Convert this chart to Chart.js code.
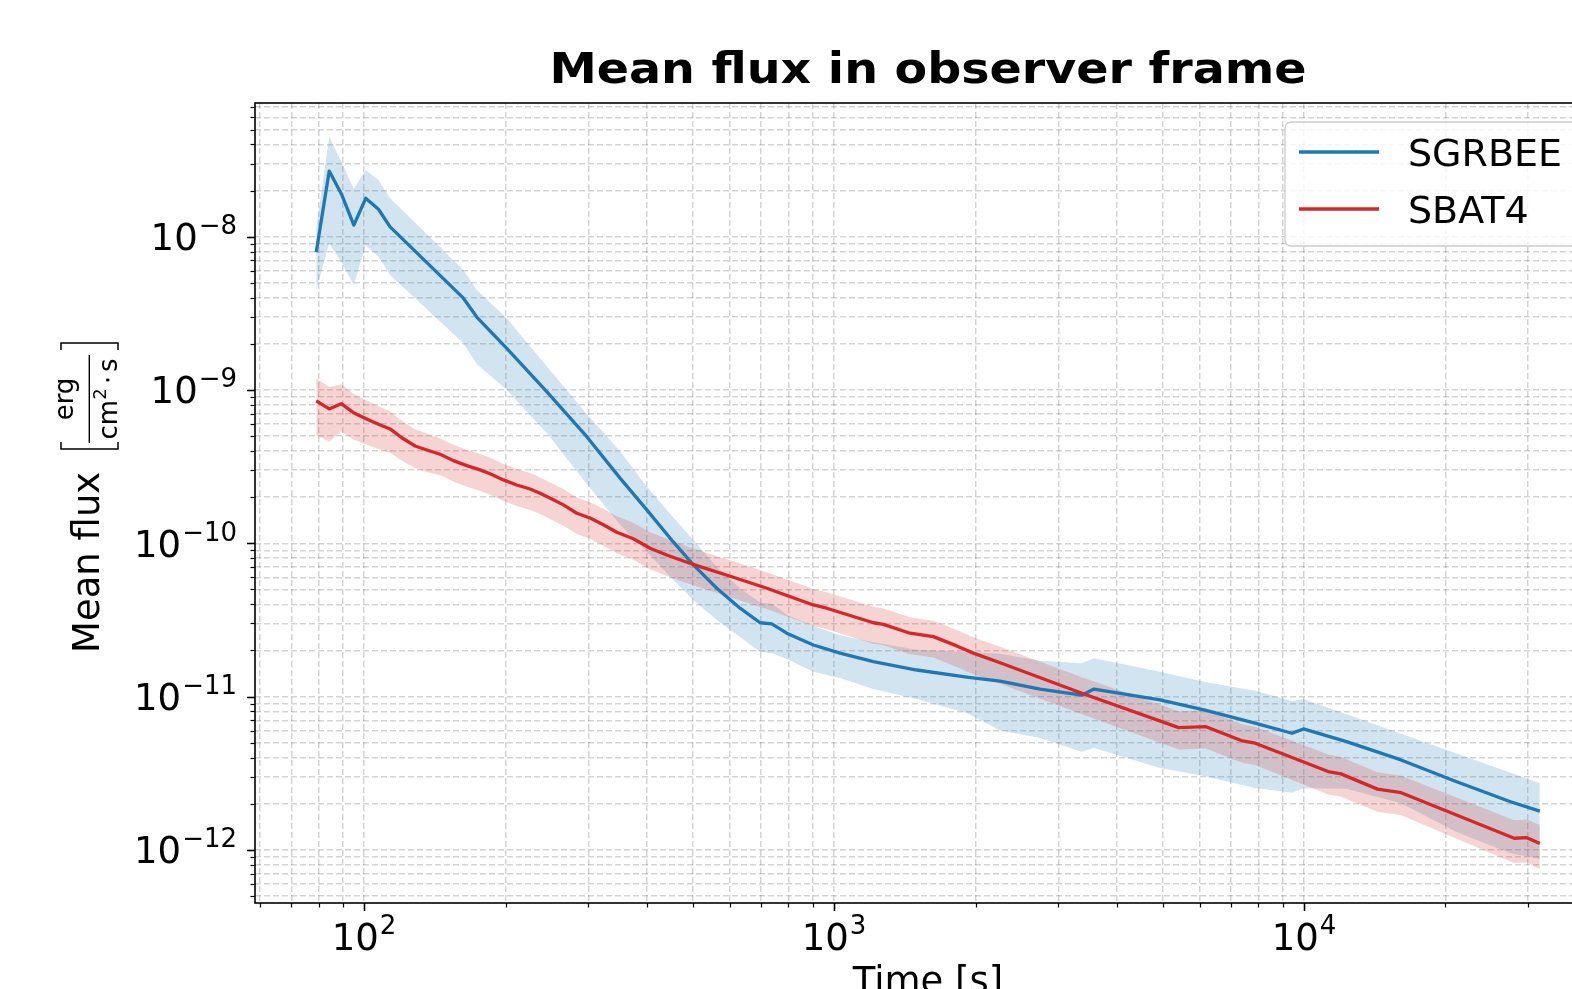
<!DOCTYPE html>
<html>
<head>
<meta charset="utf-8">
<title>Mean flux in observer frame</title>
<script src="https://cdn.jsdelivr.net/npm/chart.js@4.4.1/dist/chart.umd.min.js"></script>
<style>
  html, body { margin: 0; padding: 0; background: #fff; overflow: hidden; }
  #wrap { position: relative; width: 1700px; height: 989px; }
</style>
</head>
<body>
<div id="wrap"><canvas id="fluxChart" width="1700" height="989"></canvas></div>
<script>
// ============================================
// Mean flux vs time, two models, 1-sigma bands
// ============================================

// ---- SGRBEE ----
const sgrbeeTime = [79.1, 84.3, 89.7, 95.1, 100.8, 107.3, 113.6, 162.7, 173.7, 201.2,
  244.7, 297.8, 350.5, 399.6, 455.0, 501.9, 563.0, 631.0, 696.0, 737.1,
  793.3, 903.6, 1029.8, 1212.6, 1499.6, 1915.6, 2255.9, 2744.3, 3365.6, 3574.6,
  4938.3, 6127.6, 7866, 9429.6, 9970.6, 12315, 16085, 21058, 27513, 31752];
const sgrbeeMean = [7.91e-9, 2.68e-8, 1.87e-8, 1.19e-8, 1.78e-8, 1.51e-8, 1.16e-8, 3.97e-9, 2.99e-9, 1.87e-9,
  9.75e-10, 4.96e-10, 2.66e-10, 1.65e-10, 1.02e-10, 7.22e-11, 5.09e-11, 3.77e-11, 3.03e-11, 2.98e-11,
  2.59e-11, 2.17e-11, 1.92e-11, 1.69e-11, 1.49e-11, 1.34e-11, 1.26e-11, 1.12e-11, 1.02e-11, 1.12e-11,
  9.50e-12, 8.18e-12, 6.70e-12, 5.76e-12, 6.15e-12, 5.08e-12, 3.86e-12, 2.79e-12, 2.06e-12, 1.79e-12];
const sgrbeeHigh = [1.13e-8, 4.49e-8, 3.04e-8, 2.05e-8, 2.72e-8, 2.34e-8, 1.78e-8, 6.07e-9, 4.49e-9, 2.94e-9,
  1.43e-9, 6.98e-10, 3.99e-10, 2.34e-10, 1.47e-10, 1.05e-10, 7.01e-11, 5.09e-11, 4.10e-11, 4.03e-11,
  3.42e-11, 2.89e-11, 2.51e-11, 2.26e-11, 2.02e-11, 1.95e-11, 1.90e-11, 1.71e-11, 1.65e-11, 1.78e-11,
  1.45e-11, 1.25e-11, 1.09e-11, 9.36e-12, 9.64e-12, 7.66e-12, 5.71e-12, 4.26e-12, 3.18e-12, 2.72e-12];
const sgrbeeLow = [4.49e-9, 9.06e-9, 6.71e-9, 4.84e-9, 8.83e-9, 7.41e-9, 5.62e-9, 2.02e-9, 1.48e-9, 1.00e-9,
  5.24e-10, 2.44e-10, 1.32e-10, 8.82e-11, 5.76e-11, 4.27e-11, 3.16e-11, 2.45e-11, 1.96e-11, 1.92e-11,
  1.76e-11, 1.45e-11, 1.32e-11, 1.12e-11, 9.64e-12, 7.81e-12, 6.00e-12, 5.37e-12, 4.37e-12, 4.62e-12,
  3.42e-12, 3.03e-12, 2.53e-12, 2.36e-12, 2.52e-12, 2.50e-12, 2.01e-12, 1.31e-12, 9.5e-13, 8.7e-13];

// ---- SBAT4 ----
const sbat4Time = [79.1, 84.3, 89.4, 94.9, 101.3, 107.3, 113.6, 120.3, 128.4, 136.0,
  145.1, 154.9, 165.4, 176.5, 185.4, 197.9, 211.3, 225.6, 236.9, 252.8,
  265.5, 283.6, 302.7, 323.0, 344.9, 374.1, 406.1, 440.6, 477.9, 518.6,
  610.6, 719.3, 903.6, 964.9, 1212.6, 1273.5, 1451.3, 1626.6, 1824.0, 1979.0,
  2255.9, 3402, 5413, 6188, 7398, 7874, 11257, 11987, 14335, 16101,
  28003, 29813, 31752];
const sbat4Mean = [8.48e-10, 7.52e-10, 8.14e-10, 7.11e-10, 6.47e-10, 5.97e-10, 5.57e-10, 4.88e-10, 4.31e-10, 4.06e-10,
  3.81e-10, 3.46e-10, 3.21e-10, 3.01e-10, 2.84e-10, 2.59e-10, 2.40e-10, 2.26e-10, 2.12e-10, 1.92e-10,
  1.78e-10, 1.57e-10, 1.46e-10, 1.32e-10, 1.18e-10, 1.07e-10, 9.28e-11, 8.39e-11, 7.66e-11, 7.04e-11,
  6.00e-11, 5.09e-11, 3.96e-11, 3.77e-11, 3.03e-11, 2.96e-11, 2.59e-11, 2.46e-11, 2.14e-11, 1.92e-11,
  1.66e-11, 1.04e-11, 6.27e-12, 6.36e-12, 5.13e-12, 4.96e-12, 3.24e-12, 3.13e-12, 2.49e-12, 2.36e-12,
  1.19e-12, 1.20e-12, 1.10e-12];
const sbat4High = [1.187e-9, 1.045e-9, 1.091e-9, 9.46e-10, 8.54e-10, 7.82e-10, 7.24e-10, 6.30e-10, 5.52e-10, 5.20e-10,
  4.84e-10, 4.39e-10, 4.08e-10, 3.82e-10, 3.61e-10, 3.29e-10, 3.05e-10, 2.87e-10, 2.69e-10, 2.44e-10,
  2.26e-10, 1.99e-10, 1.85e-10, 1.68e-10, 1.50e-10, 1.36e-10, 1.18e-10, 1.07e-10, 9.73e-11, 8.94e-11,
  7.62e-11, 6.46e-11, 5.03e-11, 4.79e-11, 3.85e-11, 3.76e-11, 3.29e-11, 3.12e-11, 2.72e-11, 2.44e-11,
  2.11e-11, 1.32e-11, 8.03e-12, 8.14e-12, 6.57e-12, 6.35e-12, 4.18e-12, 4.04e-12, 3.21e-12, 3.04e-12,
  1.56e-12, 1.57e-12, 1.45e-12];
const sbat4Low = [5.09e-10, 4.59e-10, 5.37e-10, 4.76e-10, 4.40e-10, 4.12e-10, 3.90e-10, 3.46e-10, 3.10e-10, 2.92e-10,
  2.78e-10, 2.53e-10, 2.34e-10, 2.20e-10, 2.07e-10, 1.89e-10, 1.75e-10, 1.65e-10, 1.55e-10, 1.40e-10,
  1.30e-10, 1.15e-10, 1.07e-10, 9.64e-11, 8.61e-11, 7.81e-11, 6.77e-11, 6.12e-11, 5.59e-11, 5.14e-11,
  4.38e-11, 3.72e-11, 2.89e-11, 2.75e-11, 2.21e-11, 2.16e-11, 1.89e-11, 1.80e-11, 1.56e-11, 1.40e-11,
  1.21e-11, 7.59e-12, 4.51e-12, 4.58e-12, 3.69e-12, 3.57e-12, 2.30e-12, 2.22e-12, 1.77e-12, 1.68e-12,
  8.21e-13, 8.28e-13, 7.48e-13];

// ---- axes ----
const xMin = 58.6, xMax = 42850;
const yMin = 4.50e-13, yMax = 7.45e-8;

const seriesNames = ['SGRBEE', 'SBAT4'];
const lineColors = ['#1f77b4', '#d62728'];
const bandColors = ['rgba(31,119,180,0.2)', 'rgba(214,39,40,0.2)'];

const FONT = '"DejaVu Sans", sans-serif';
const LINE_W = 3.3;

function points(times, values) {
  return times.map((t, i) => ({ x: t, y: values[i] }));
}

function lineSet(label, color, times, values) {
  return {
    label, data: points(times, values),
    borderColor: color, borderWidth: LINE_W, borderJoinStyle: 'round',
    pointRadius: 0, fill: false, tension: 0
  };
}

function bandSet(color, times, values, fill) {
  return {
    label: '', data: points(times, values),
    borderWidth: 0, borderColor: 'transparent', backgroundColor: color,
    pointRadius: 0, fill, tension: 0
  };
}

// 1..9 x 10^n ticks inside the axis range
function decadeTicks(min, max) {
  const out = [];
  for (let e = Math.floor(Math.log10(min)); e <= Math.ceil(Math.log10(max)); e++) {
    for (let k = 1; k <= 9; k++) {
      const v = k * Math.pow(10, e);
      if (v >= min && v <= max) out.push({ value: v, major: k === 1 });
    }
  }
  return out;
}

const gridOpts = { color: 'rgba(0,0,0,0.17)', lineWidth: 1.5, drawTicks: false };
const borderOpts = { display: false, dash: [6, 3] };

// ---- labels drawn as 10^n ----
const TICK_PX = 37, SUP_PX = 26;

function drawPower(ctx, exp, x, baseY, align) {
  const base = '10';
  const sup = exp < 0 ? '\u2212' + (-exp) : String(exp);
  ctx.font = TICK_PX + 'px ' + FONT;
  const wb = ctx.measureText(base).width;
  ctx.font = SUP_PX + 'px ' + FONT;
  const ws = ctx.measureText(sup).width;
  const total = wb + 1 + ws;
  const left = align === 'center' ? x - total / 2 : x - total;
  ctx.textAlign = 'left';
  ctx.font = TICK_PX + 'px ' + FONT;
  ctx.fillText(base, left, baseY);
  ctx.font = SUP_PX + 'px ' + FONT;
  ctx.fillText(sup, left + wb + 1, baseY - 16);
}

function drawTickMarks(ctx, scale, area, horizontal) {
  scale.ticks.forEach(t => {
    const p = Math.round(scale.getPixelForValue(t.value)) + 0.5;
    const len = t.major ? 8 : 4.5;
    ctx.lineWidth = t.major ? 1.6 : 1.2;
    ctx.beginPath();
    if (horizontal) { ctx.moveTo(p, area.bottom); ctx.lineTo(p, area.bottom + len); }
    else { ctx.moveTo(area.left, p); ctx.lineTo(area.left - len, p); }
    ctx.stroke();
  });
}

function drawYTitle(ctx) {
  ctx.save();
  ctx.translate(99, 653);
  ctx.rotate(-Math.PI / 2);
  ctx.textAlign = 'left';
  ctx.font = '37px ' + FONT;
  ctx.fillText('Mean flux', 0, 0);

  // brackets around the unit fraction
  ctx.lineWidth = 1.5;
  ctx.beginPath();
  ctx.moveTo(211, -38); ctx.lineTo(204, -38); ctx.lineTo(204, 19); ctx.lineTo(211, 19);
  ctx.moveTo(303, -38); ctx.lineTo(310, -38); ctx.lineTo(310, 19); ctx.lineTo(303, 19);
  ctx.stroke();
  ctx.fillRect(210, -10.4, 88, 1.4);

  const cx = 254;
  ctx.font = '26px ' + FONT;
  ctx.textAlign = 'center';
  ctx.fillText('erg', cx, -26);

  ctx.textAlign = 'left';
  const wcm = ctx.measureText('cm').width;
  const wdot = ctx.measureText('\u22c5').width;
  const ws = ctx.measureText('s').width;
  ctx.font = '18px ' + FONT;
  const w2 = ctx.measureText('2').width;
  const gap = 4;
  let px = cx - (wcm + w2 + gap + wdot + gap + ws) / 2;
  ctx.font = '26px ' + FONT;
  ctx.fillText('cm', px, 17.5); px += wcm;
  ctx.font = '18px ' + FONT;
  ctx.fillText('2', px, 6.5); px += w2 + gap;
  ctx.font = '26px ' + FONT;
  ctx.fillText('\u22c5', px, 17.5); px += wdot + gap;
  ctx.fillText('s', px, 17.5);
  ctx.restore();
}

function drawLegend(ctx) {
  ctx.save();
  ctx.beginPath();
  ctx.roundRect(1285, 122, 330, 124, 6);
  ctx.fillStyle = 'rgba(255,255,255,0.8)';
  ctx.fill();
  ctx.strokeStyle = '#cccccc';
  ctx.lineWidth = 1.3;
  ctx.stroke();
  const rows = [152, 209];
  seriesNames.forEach((name, i) => {
    ctx.strokeStyle = lineColors[i];
    ctx.lineWidth = LINE_W;
    ctx.beginPath();
    ctx.moveTo(1299, rows[i]); ctx.lineTo(1379, rows[i]);
    ctx.stroke();
    ctx.fillStyle = '#000';
    ctx.font = '38px ' + FONT;
    ctx.textAlign = 'left';
    ctx.fillText(name, 1408, rows[i] + 13.8);
  });
  ctx.restore();
}

const decorations = {
  id: 'decorations',
  afterDraw(chart) {
    const { ctx, chartArea: a, scales: { x, y } } = chart;
    ctx.save();
    ctx.fillStyle = '#000';
    ctx.strokeStyle = '#000';
    ctx.textBaseline = 'alphabetic';

    // axes frame
    ctx.lineWidth = 1.6;
    ctx.strokeRect(a.left, a.top, a.right - a.left, a.bottom - a.top);

    drawTickMarks(ctx, x, a, true);
    drawTickMarks(ctx, y, a, false);

    x.ticks.filter(t => t.major).forEach(t => {
      drawPower(ctx, Math.round(Math.log10(t.value)), x.getPixelForValue(t.value), 950, 'center');
    });
    y.ticks.filter(t => t.major).forEach(t => {
      drawPower(ctx, Math.round(Math.log10(t.value)), a.left - 18, y.getPixelForValue(t.value) + 13.3, 'right');
    });

    const midX = (a.left + a.right) / 2;
    ctx.textAlign = 'center';

    // wide bold title
    ctx.save();
    ctx.translate(midX, 83);
    ctx.scale(1.16, 1.04);
    ctx.font = 'bold 41px ' + FONT;
    ctx.fillText('Mean flux in observer frame', 0, 0);
    ctx.restore();

    ctx.font = '37px ' + FONT;
    ctx.fillText('Time [s]', midX, 993);

    drawYTitle(ctx);
    drawLegend(ctx);
    ctx.restore();
  }
};

new Chart(document.getElementById('fluxChart'), {
  type: 'line',
  data: {
    datasets: [
      lineSet(seriesNames[1], lineColors[1], sbat4Time, sbat4Mean),
      lineSet(seriesNames[0], lineColors[0], sgrbeeTime, sgrbeeMean),
      bandSet(bandColors[1], sbat4Time, sbat4High, '+1'),
      bandSet(bandColors[1], sbat4Time, sbat4Low, false),
      bandSet(bandColors[0], sgrbeeTime, sgrbeeHigh, '+1'),
      bandSet(bandColors[0], sgrbeeTime, sgrbeeLow, false)
    ]
  },
  options: {
    responsive: false,
    animation: false,
    devicePixelRatio: 1,
    events: [],
    layout: { padding: { top: 103, right: 99, left: 0, bottom: 0 } },
    plugins: {
      legend: { display: false },
      tooltip: { enabled: false },
      filler: { drawTime: 'beforeDatasetsDraw' }
    },
    scales: {
      x: {
        type: 'logarithmic', min: xMin, max: xMax,
        afterBuildTicks: s => { s.ticks = decadeTicks(s.min, s.max); },
        afterFit: s => { s.height = 86; },
        ticks: { display: false },
        grid: gridOpts, border: borderOpts
      },
      y: {
        type: 'logarithmic', min: yMin, max: yMax,
        afterBuildTicks: s => { s.ticks = decadeTicks(s.min, s.max); },
        afterFit: s => { s.width = 255; },
        ticks: { display: false },
        grid: gridOpts, border: borderOpts
      }
    }
  },
  plugins: [decorations]
});
</script>
</body>
</html>
